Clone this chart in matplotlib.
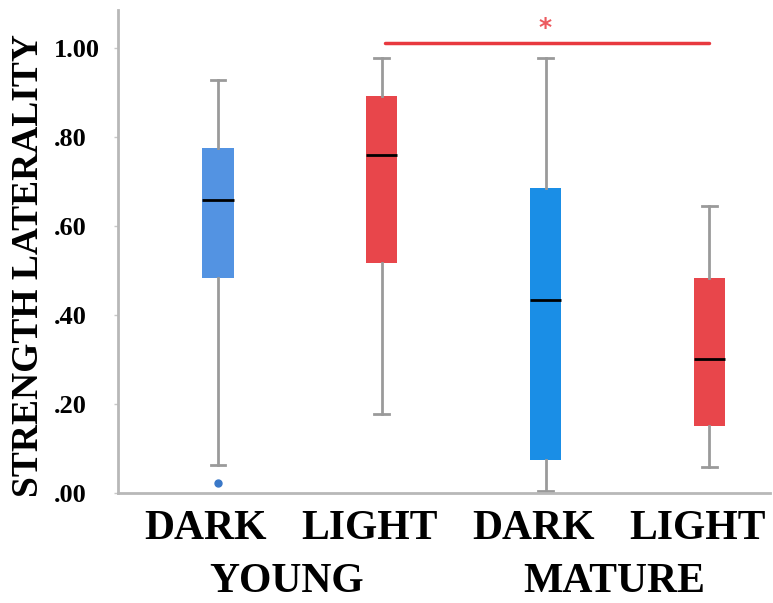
import matplotlib
matplotlib.use("Agg")
import matplotlib.pyplot as plt
from matplotlib.transforms import ScaledTranslation

groups = ["DARK", "LIGHT", "DARK", "LIGHT"]
ages = ["YOUNG", "MATURE"]
whislo = [0.063, 0.178, 0.004, 0.058]
q1 = [0.483, 0.517, 0.074, 0.151]
med = [0.658, 0.760, 0.434, 0.301]
q3 = [0.775, 0.892, 0.685, 0.483]
whishi = [0.928, 0.978, 0.978, 0.645]
fliers = [[0.022], [], [], []]
colors = ["#5393E2", "#E8464B", "#1A8EE6", "#E8464B"]
yticks = [0.0, 0.2, 0.4, 0.6, 0.8, 1.0]
ytick_labels = [".00", ".20", ".40", ".60", ".80", "1.00"]
sig_pair = (1, 3)
sig_y = 1.011

fig = plt.figure(figsize=(7.73, 6.03), dpi=100)
ax = fig.add_axes([0.1527, 0.1824, 0.8433, 0.8006])

stats = []
for i in range(4):
    stats.append(dict(med=med[i], q1=q1[i], q3=q3[i], whislo=whislo[i],
                      whishi=whishi[i], fliers=fliers[i]))
pos = list(range(4))
bp = ax.bxp(stats, positions=pos, widths=0.19, patch_artist=True,
            showfliers=True,
            boxprops=dict(linewidth=0),
            medianprops=dict(color="black", linewidth=2),
            whiskerprops=dict(color="#9a9a9a", linewidth=2),
            capprops=dict(color="#9a9a9a", linewidth=2),
            capwidths=0.09,
            flierprops=dict(marker="o", markersize=5, markerfacecolor="#3a78c8",
                            markeredgecolor="#3a78c8"))
for patch, c in zip(bp["boxes"], colors):
    patch.set_facecolor(c)
    patch.set_edgecolor(c)

# significance bar
ax.plot([pos[sig_pair[0]] + 0.02, pos[sig_pair[1]]], [sig_y, sig_y], color="#E8393F", lw=2.5,
        solid_capstyle="round")
ax.text((pos[sig_pair[0]] + pos[sig_pair[1]]) / 2, sig_y + 0.008, "*", color="#EC5A5F",
        ha="center", va="bottom", fontsize=18, fontweight="bold")

ax.set_xlim(-0.61, 3.37)
ax.set_ylim(0, 1.085)
ax.set_yticks(yticks)
ax.set_yticklabels(ytick_labels, fontfamily="Liberation Serif", fontweight="bold", fontsize=19)
ax.tick_params(axis="y", length=3, width=1, color="#c8c8c8", pad=43)
for lab in ax.get_yticklabels():
    lab.set_horizontalalignment("left")

ax.set_xticks(pos)
ax.set_xticklabels(groups, fontfamily="Liberation Serif", fontweight="bold", fontsize=30)
ax.tick_params(axis="x", length=0, pad=12)
off = ScaledTranslation(-12 / 100, 0, fig.dpi_scale_trans)
for lab in ax.get_xticklabels():
    lab.set_transform(lab.get_transform() + off)

for s in ["top", "right"]:
    ax.spines[s].set_visible(False)
for s in ["left", "bottom"]:
    ax.spines[s].set_color("#b8b8b8")
    ax.spines[s].set_linewidth(2)

ax.set_ylabel("STRENGTH LATERALITY", fontfamily="Liberation Serif", fontweight="bold",
              fontsize=27)
ax.yaxis.set_label_coords(-0.110, 0.472)

for j, a in enumerate(ages):
    ax.text((pos[2 * j] + pos[2 * j + 1]) / 2 - 0.08, -0.2, a, transform=ax.transData,
            ha="center", va="center", fontfamily="Liberation Serif", fontweight="bold",
            fontsize=30, clip_on=False)

fig.savefig("out.png", dpi=100)
